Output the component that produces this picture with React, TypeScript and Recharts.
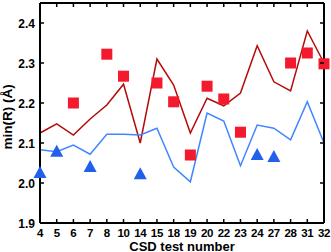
import React from "react";
import { LineChart, Line, XAxis, YAxis, Label } from "recharts";

const categories = ["4", "5", "6", "7", "8", "10", "14", "15", "18", "19", "20", "22", "23", "24", "27", "28", "31", "32"];
const redLine = [2.125, 2.148, 2.12, 2.16, 2.195, 2.247, 2.1, 2.31, 2.245, 2.125, 2.212, 2.193, 2.225, 2.343, 2.253, 2.23, 2.38, 2.3];
const blueLine = [2.083, 2.078, 2.095, 2.072, 2.122, 2.122, 2.12, 2.137, 2.04, 2.003, 2.175, 2.155, 2.043, 2.145, 2.137, 2.108, 2.203, 2.1];
const redSquares = [null, null, 2.2, null, 2.322, 2.267, null, 2.25, 2.203, 2.07, 2.242, 2.21, 2.127, null, null, 2.3, 2.325, 2.298];
const blueTriangles = [2.025, 2.078, null, 2.04, null, null, 2.022, null, null, null, null, null, null, 2.07, 2.065, null, null, null];
const yTicks = [1.9, 2.0, 2.1, 2.2, 2.3, 2.4];

const data = categories.map((c, i) => ({
  test: c,
  red: redLine[i],
  blue: blueLine[i],
  sq: redSquares[i],
  tri: blueTriangles[i],
}));

const FONT = "Arial, 'Liberation Sans', sans-serif";
const TICK_LEN = 4;

const LeftTick = (props: any) => {
  const { x, y, payload } = props;
  return (
    <g>
      <line x1={x + 5} x2={x + 5 + TICK_LEN} y1={y} y2={y} stroke="#000" strokeWidth={1.5} />
      <text x={x} y={y} dy={4.5} textAnchor="end" fontFamily={FONT} fontWeight="bold" fontSize={12} fill="#000">
        {Number(payload.value).toFixed(1)}
      </text>
    </g>
  );
};

const RightTick = (props: any) => {
  const { x, y } = props;
  return <line x1={x} x2={x - TICK_LEN} y1={y} y2={y} stroke="#000" strokeWidth={1.5} />;
};

// bottom tick: inward mark plus the category label
const BottomTick = (props: any) => {
  const { x, y, payload } = props;
  return (
    <g>
      <line x1={x} x2={x} y1={y} y2={y - TICK_LEN} stroke="#000" strokeWidth={1.5} />
      <text x={x} y={y + 13.5} textAnchor="middle" fontFamily={FONT} fontWeight="bold" fontSize={11.5} letterSpacing={-0.3} fill="#000">
        {payload.value}
      </text>
    </g>
  );
};

const TopTick = (props: any) => {
  const { x, y } = props;
  return <line x1={x} x2={x} y1={y} y2={y + TICK_LEN} stroke="#000" strokeWidth={1.5} />;
};

const SquareDot = (props: any) => {
  const { cx, cy, value, index } = props;
  if (value == null || cy == null) return <g key={`sq-${index}`} />;
  return <rect key={`sq-${index}`} x={cx - 5.5} y={cy - 5.5} width={11} height={11} fill="#f21a2c" />;
};

const TriangleDot = (props: any) => {
  const { cx, cy, value, index } = props;
  if (value == null || cy == null) return <g key={`tri-${index}`} />;
  const pts = `${cx},${cy - 7} ${cx - 6.5},${cy + 5} ${cx + 6.5},${cy + 5}`;
  return <polygon key={`tri-${index}`} points={pts} fill="#2160ea" />;
};

export default function App() {
  const axisLine = { stroke: "#000", strokeWidth: 2 };
  return (
    <div style={{ width: 331, height: 252 }}>
      <style>{`body{margin:0}`}</style>
      <LineChart width={331} height={252} data={data} margin={{ top: 0, right: 0, bottom: 0, left: 0 }}>
        <XAxis
          dataKey="test"
          height={29}
          interval={0}
          tickSize={0}
          tickMargin={0}
          tickLine={false}
          axisLine={axisLine}
          tick={<BottomTick />}
        >
          <Label
            content={(p: any) => {
              const vb = p.viewBox;
              return (
                <text x={vb.x + vb.width / 2} y={vb.y + 27.5} textAnchor="middle" fontFamily={FONT} fontWeight="bold" fontSize={13} fill="#000">
                  CSD test number
                </text>
              );
            }}
          />
        </XAxis>
        <XAxis
          xAxisId="top"
          dataKey="test"
          orientation="top"
          height={3}
          interval={0}
          tickSize={0}
          tickMargin={0}
          tickLine={false}
          axisLine={axisLine}
          tick={<TopTick />}
        />
        <YAxis
          domain={[1.9, 2.45]}
          ticks={yTicks}
          width={40}
          tickSize={0}
          tickMargin={5}
          tickLine={false}
          axisLine={axisLine}
          tick={<LeftTick />}
        >
          <Label
            content={(p: any) => {
              const vb = p.viewBox;
              const cy = vb.y + vb.height / 2 + 4;
              return (
                <text x={12} y={cy} transform={`rotate(-90, 12, ${cy})`} textAnchor="middle" fontFamily={FONT} fontWeight="bold" fontSize={13.5} fill="#000">
                  min(R) (Å)
                </text>
              );
            }}
          />
        </YAxis>
        <YAxis
          yAxisId="r"
          orientation="right"
          domain={[1.9, 2.45]}
          ticks={yTicks}
          width={7}
          tickSize={0}
          tickMargin={0}
          tickLine={false}
          axisLine={axisLine}
          tick={<RightTick />}
        />
        <Line xAxisId="top" yAxisId="r" dataKey="blue" stroke="none" dot={false} isAnimationActive={false} />
        <Line dataKey="red" stroke="#b50a0a" strokeWidth={1.5} dot={false} isAnimationActive={false} />
        <Line dataKey="blue" stroke="#3f86ff" strokeWidth={1.5} dot={false} isAnimationActive={false} />
        <Line dataKey="sq" stroke="none" dot={SquareDot} activeDot={false} isAnimationActive={false} />
        <Line dataKey="tri" stroke="none" dot={TriangleDot} activeDot={false} isAnimationActive={false} />
      </LineChart>
    </div>
  );
}
